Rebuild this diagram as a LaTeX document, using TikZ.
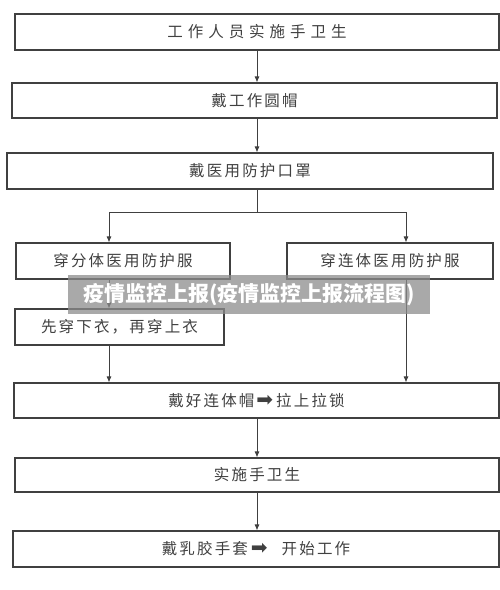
\documentclass[tikz,border=0pt]{standalone}
\usepackage{fontspec}
\newfontfamily\cjk{Noto Sans CJK SC}
\newfontfamily\sym{DejaVu Sans}
\usetikzlibrary{arrows.meta}

\newcommand{\heavyarr}{{\sym\fontsize{20}{20}\selectfont ➡}}

\tikzset{
    box/.style={draw=black!75, line width=1.1pt, rectangle, inner sep=0pt,
        text=black!75, font=\cjk\fontsize{15.5}{17}\selectfont\addfontfeature{LetterSpace=14}},
    wide/.style={font=\cjk\fontsize{15.5}{17}\selectfont\addfontfeature{LetterSpace=32}},
    flow/.style={draw=black!75, line width=0.9pt, -{Latex[length=6pt,width=5pt]}},
    link/.style={draw=black!75, line width=0.9pt},
}

\begin{document}
\begin{tikzpicture}[x=1pt, y=-1pt]
    \useasboundingbox (0,0) rectangle (500,590);
    \node[box, wide, minimum width=484pt, minimum height=36pt] at (257, 32) (wash) {工作人员实施手卫生};
    \node[box, minimum width=485pt, minimum height=35pt] at (254.5, 100.5) (cap) {戴工作圆帽};
    \node[box, minimum width=486pt, minimum height=36pt] at (250, 171) (mask) {戴医用防护口罩};
    \node[box, minimum width=214pt, minimum height=36pt] at (123, 261) (split) {穿分体医用防护服};
    \node[box, minimum width=206pt, minimum height=36pt] at (390, 261) (whole) {穿连体医用防护服};
    \node[box, minimum width=209pt, minimum height=36pt] at (119.5, 327) (order) {先穿下衣，再穿上衣};
    \node[box, minimum width=485pt, minimum height=35pt] at (256.5, 400.5) (hood) {戴好连体帽\hspace{2pt}\heavyarr\hspace{3pt}拉上拉锁};
    \node[box, minimum width=484pt, minimum height=34pt] at (257, 475) (wash2) {实施手卫生};
    \node[box, minimum width=486pt, minimum height=36pt] at (256, 549) (glove) {戴乳胶手套\hspace{3pt}\heavyarr\hspace{14pt}开始工作};

    \coordinate (spine) at (257, 0);
    \coordinate (fork) at (257, 212);
    \coordinate (lfork) at (109, 212);
    \coordinate (rfork) at (406, 212);

    \draw[flow] (spine |- wash.south) -- (spine |- cap.north);
    \draw[flow] (spine |- cap.south) -- (spine |- mask.north);
    \draw[link] (spine |- mask.south) -- (fork);
    \draw[link] (lfork) -- (rfork);
    \draw[flow] (lfork) -- (lfork |- split.north);
    \draw[flow] (rfork) -- (rfork |- whole.north);
    \draw[flow] (lfork |- split.south) -- (lfork |- order.north);
    \draw[flow] (lfork |- order.south) -- (lfork |- hood.north);
    \draw[flow] (rfork |- whole.south) -- (rfork |- hood.north);
    \draw[flow] (spine |- hood.south) -- (spine |- wash2.north);
    \draw[flow] (spine |- wash2.south) -- (spine |- glove.north);

    % overlay banner
    \node[fill=black!45, fill opacity=0.75, text opacity=1, text=white, inner sep=0pt,
        minimum width=362pt, minimum height=39pt,
        font=\cjk\bfseries\fontsize{21}{23}\selectfont] at (249, 294.5) (banner) {疫情监控上报(疫情监控上报流程图)};
\end{tikzpicture}
\end{document}
